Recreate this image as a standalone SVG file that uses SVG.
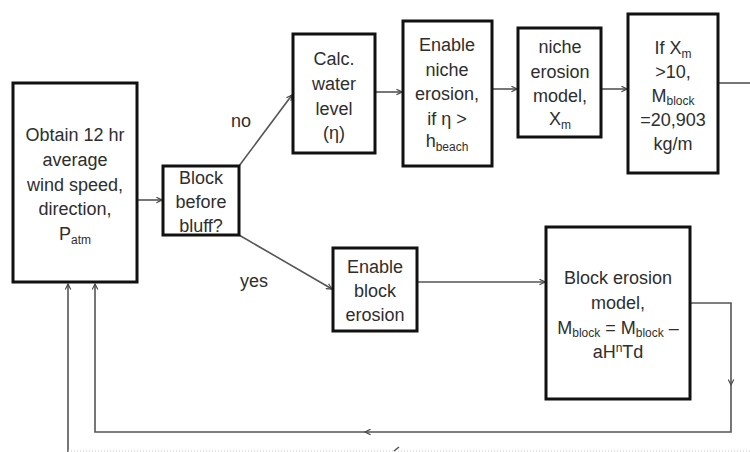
<svg xmlns="http://www.w3.org/2000/svg" width="750" height="452" viewBox="0 0 750 452">
  <defs>
    <marker id="arr" viewBox="0 0 10 10" refX="9" refY="5" markerWidth="7" markerHeight="7" orient="auto" markerUnits="userSpaceOnUse">
      <path d="M1,1 L9,5 L1,9" fill="none" stroke="#444" stroke-width="1.6"/>
    </marker>
    <style>
      rect.box { fill: #fff; stroke: #111; stroke-width: 3; }
      text { font-family: "Liberation Sans", Arial, sans-serif; font-size: 18px; fill: #2e2e2e; text-anchor: middle; }
      text.lbl { text-anchor: start; }
      tspan.sub { font-size: 12px; }
      .conn path, .conn line { fill: none; stroke: #555; stroke-width: 1.6; }
      .faint { stroke: #c8c8c8 !important; stroke-width: 1 !important; stroke-dasharray: 1 2; }
    </style>
  </defs>
  <rect width="750" height="452" fill="#fff"/>

  <!-- connectors -->
  <g class="conn">
    <line x1="137" y1="200" x2="162" y2="200" marker-end="url(#arr)"/>
    <line x1="239" y1="166" x2="292" y2="95" marker-end="url(#arr)"/>
    <line x1="239" y1="235" x2="332" y2="289" marker-end="url(#arr)"/>
    <line x1="375" y1="92" x2="402" y2="92" marker-end="url(#arr)"/>
    <line x1="492" y1="89" x2="517" y2="89" marker-end="url(#arr)"/>
    <line x1="601" y1="89" x2="627" y2="89" marker-end="url(#arr)"/>
    <line x1="718" y1="83" x2="750" y2="83"/>
    <line x1="417" y1="282" x2="545" y2="282" marker-end="url(#arr)"/>
    <path d="M690,303 H731 V385" marker-end="url(#arr)"/>
    <path d="M731,383 V432 H365" marker-end="url(#arr)"/>
    <path d="M367,432 H95 V284" marker-end="url(#arr)"/>
    <line x1="68" y1="452" x2="68" y2="284" marker-end="url(#arr)"/>
    <line class="faint" x1="68" y1="451" x2="750" y2="451"/>
    <path d="M399,447 L394,451" stroke="#777" stroke-width="1.2"/>
  </g>

  <!-- branch labels -->
  <text class="lbl" x="231" y="127">no</text>
  <text class="lbl" x="240" y="287">yes</text>

  <g id="obtain">
    <rect class="box" x="13" y="83" width="124" height="199"/>
    <text x="75" y="141">Obtain 12 hr</text>
    <text x="75" y="166">average</text>
    <text x="75" y="191">wind speed,</text>
    <text x="75" y="215">direction,</text>
    <text x="75" y="240">P<tspan class="sub" dy="4">atm</tspan></text>
  </g>

  <g id="block-check">
    <rect class="box" x="163" y="166" width="76" height="69"/>
    <text x="201" y="184">Block</text>
    <text x="201" y="208">before</text>
    <text x="201" y="232">bluff?</text>
  </g>

  <g id="calc-water">
    <rect class="box" x="293" y="34" width="82" height="119"/>
    <text x="334" y="65">Calc.</text>
    <text x="334" y="90">water</text>
    <text x="334" y="115">level</text>
    <text x="334" y="139">(η)</text>
  </g>

  <g id="enable-niche">
    <rect class="box" x="403" y="21" width="89" height="145"/>
    <text x="447" y="51">Enable</text>
    <text x="447" y="76">niche</text>
    <text x="447" y="100">erosion,</text>
    <text x="447" y="125">if η &gt;</text>
    <text x="447" y="147">h<tspan class="sub" dy="4">beach</tspan></text>
  </g>

  <g id="niche-model">
    <rect class="box" x="518" y="28" width="83" height="109"/>
    <text x="560" y="53">niche</text>
    <text x="560" y="78">erosion</text>
    <text x="560" y="102">model,</text>
    <text x="560" y="125">X<tspan class="sub" dy="4">m</tspan></text>
  </g>

  <g id="block-mass">
    <rect class="box" x="628" y="14" width="90" height="159"/>
    <text x="673" y="54">If X<tspan class="sub" dy="4">m</tspan></text>
    <text x="673" y="78">&gt;10,</text>
    <text x="673" y="102">M<tspan class="sub" dy="3">block</tspan></text>
    <text x="673" y="126">=20,903</text>
    <text x="673" y="150">kg/m</text>
  </g>

  <g id="enable-block">
    <rect class="box" x="333" y="248" width="84" height="83"/>
    <text x="375" y="273">Enable</text>
    <text x="375" y="297">block</text>
    <text x="375" y="321">erosion</text>
  </g>

  <g id="block-model">
    <rect class="box" x="546" y="227" width="144" height="172"/>
    <text x="618" y="284">Block erosion</text>
    <text x="618" y="309">model,</text>
    <text x="618" y="334">M<tspan class="sub" dy="3">block</tspan><tspan dy="-3"> = M</tspan><tspan class="sub" dy="3">block</tspan><tspan dy="-3"> –</tspan></text>
    <text x="618" y="358">aH<tspan class="sub" dy="-6">n</tspan><tspan dy="6">Td</tspan></text>
  </g>
</svg>
